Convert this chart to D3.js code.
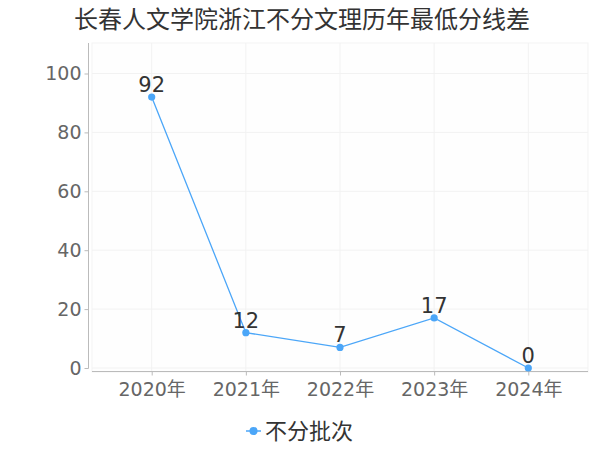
<!DOCTYPE html>
<html><head><meta charset="utf-8">
<script src="https://cdn.jsdelivr.net/npm/d3@7"></script>
<style>body{margin:0;background:#fff;}svg{display:block;font-family:"Noto Sans CJK SC","DejaVu Sans",sans-serif;}</style>
</head><body>
<svg id="c" width="600" height="450"></svg>
<script>
const title = "长春人文学院浙江不分文理历年最低分线差";
const categories = ["2020年","2021年","2022年","2023年","2024年"];
const seriesName = "不分批次";
const values = [92, 12, 7, 17, 0];
const yTicks = [0, 20, 40, 60, 80, 100];

(function(){
const svg = d3.select("#c");
const color = "#4ba6f8";
const pLeft = 92, pRight = 588, pTop = 43, pBottom = 372;
const x = d3.scalePoint().domain(categories).range([pLeft, pRight]).padding(0.634);
const y = d3.scaleLinear().domain([0, 100]).range([368, 73.5]);

svg.append("rect").attr("x", pLeft).attr("y", pTop).attr("width", pRight-pLeft).attr("height", pBottom-pTop)
  .attr("fill", "#fefefe").attr("stroke", "#f3f3f3");

svg.append("g").selectAll("line").data(yTicks).join("line")
  .attr("x1", pLeft).attr("x2", pRight).attr("y1", d=>y(d)).attr("y2", d=>y(d))
  .attr("stroke", "#f2f2f2").attr("stroke-width", 1);
svg.append("g").selectAll("line").data(categories).join("line")
  .attr("x1", d=>x(d)).attr("x2", d=>x(d)).attr("y1", pTop).attr("y2", pBottom)
  .attr("stroke", "#f2f2f2").attr("stroke-width", 1);

const yAxis = svg.append("g").attr("transform", "translate(88.5,0)")
  .call(d3.axisLeft(y).tickValues(yTicks).tickSize(4).tickPadding(3));
yAxis.select(".domain").attr("stroke", "#bbb").attr("d", `M0,${pTop}V${368.5}`);
yAxis.selectAll(".tick line").attr("stroke", "#bbb");
yAxis.selectAll(".tick text").attr("fill", "#666").style("font-size", "19px")
  .style("font-family", "'DejaVu Sans',sans-serif");

const xAxis = svg.append("g").attr("transform", `translate(0,${pBottom - 0.5})`)
  .call(d3.axisBottom(x).tickSize(4).tickPadding(7));
xAxis.select(".domain").attr("stroke", "#bbb").attr("d", `M${pLeft},0H${pRight}`);
xAxis.selectAll(".tick line").attr("stroke", "#bbb");
xAxis.selectAll(".tick text").attr("fill", "#666").style("font-size", "19px")
  .style("font-family", "'DejaVu Sans','Noto Sans CJK SC',sans-serif");

const line = d3.line().x((d,i)=>x(categories[i])).y(d=>y(d));
svg.append("path").datum(values).attr("d", line).attr("fill", "none")
  .attr("stroke", color).attr("stroke-width", 1.3);
svg.append("g").selectAll("circle").data(values).join("circle")
  .attr("cx", (d,i)=>x(categories[i])).attr("cy", d=>y(d)).attr("r", 3.6).attr("fill", color);
svg.append("g").selectAll("text").data(values).join("text")
  .attr("x", (d,i)=>x(categories[i])).attr("y", d=>y(d) - 5)
  .attr("text-anchor", "middle").attr("fill", "#333").style("font-size", "21px")
  .style("font-family", "'DejaVu Sans',sans-serif").text(d=>d);

svg.append("text").attr("x", 302).attr("y", 28).attr("text-anchor", "middle")
  .attr("fill", "#333").style("font-size", "24px").text(title);

const lg = svg.append("g");
lg.append("line").attr("x1", 246).attr("x2", 261).attr("y1", 431).attr("y2", 431)
  .attr("stroke", color).attr("stroke-width", 1.5);
lg.append("circle").attr("cx", 253.5).attr("cy", 431).attr("r", 4).attr("fill", color);
lg.append("text").attr("x", 265).attr("y", 439).attr("fill", "#333")
  .style("font-size", "22px").text(seriesName);
})();
</script>
</body></html>
